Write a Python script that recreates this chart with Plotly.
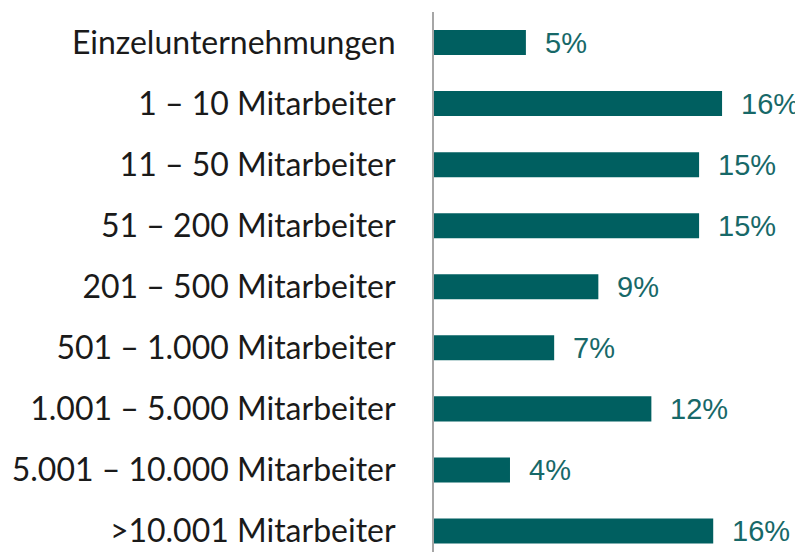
import plotly.graph_objects as go

categories = [
    "Einzelunternehmungen",
    "1 – 10 Mitarbeiter",
    "11 – 50 Mitarbeiter",
    "51 – 200 Mitarbeiter",
    "201 – 500 Mitarbeiter",
    "501 – 1.000 Mitarbeiter",
    "1.001 – 5.000 Mitarbeiter",
    "5.001 – 10.000 Mitarbeiter",
    ">10.001 Mitarbeiter",
]
values = [5.2, 16.3, 15.0, 15.0, 9.3, 6.8, 12.3, 4.3, 15.8]
labels = ["5%", "16%", "15%", "15%", "9%", "7%", "12%", "4%", "16%"]

bar_color = "#005F60"
label_color = "#176868"

fig = go.Figure()
fig.add_trace(go.Bar(
    x=values,
    y=categories,
    orientation="h",
    marker=dict(color=bar_color, line=dict(width=0)),
    width=0.41,
    hoverinfo="skip",
))

for cat, val, lab in zip(categories, values, labels):
    fig.add_annotation(
        x=val, y=cat, text=lab, showarrow=False,
        xanchor="left", yanchor="middle", xshift=17,
        font=dict(family="Liberation Sans, Arial, sans-serif", size=29, color=label_color),
    )

# The page body has an 8px margin, so the figure is sized to the remaining area
fig.update_layout(
    width=795, height=544,
    margin=dict(l=426, r=0, t=4, b=0, autoexpand=False),
    paper_bgcolor="white", plot_bgcolor="white",
    showlegend=False,
    xaxis=dict(range=[0, 20.88], visible=False, fixedrange=True, automargin=False),
    yaxis=dict(
        range=[8.344, -0.5],
        automargin=False,
        showline=True, linecolor="#a6a6a6", linewidth=2,
        showgrid=False, zeroline=False, ticks="",
        ticklabelstandoff=30,
        tickfont=dict(family="Lato, Carlito, Calibri, sans-serif", size=32, color="#1a1a1a"),
    ),
)

fig.write_html("out.html")
